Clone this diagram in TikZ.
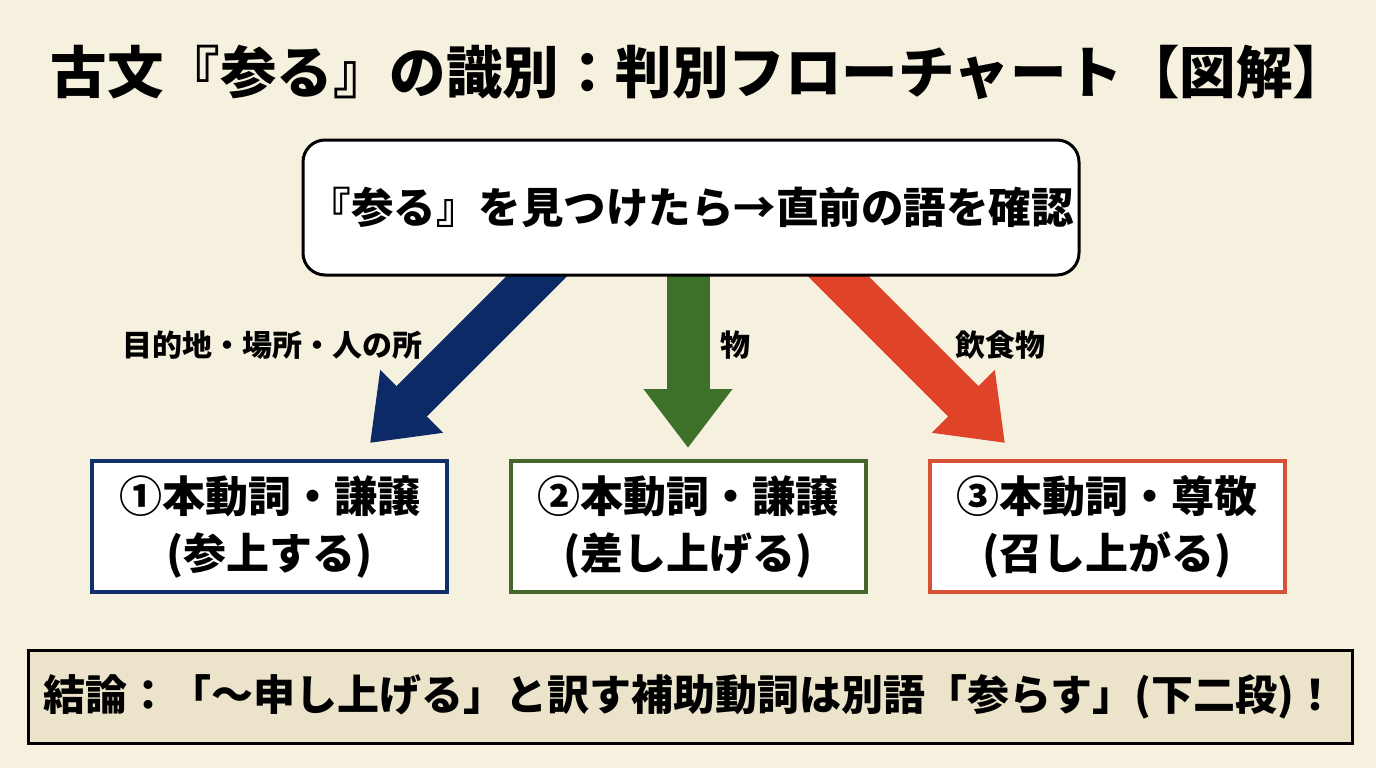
\documentclass[tikz,border=0pt]{standalone}
\usepackage{fontspec}
\setmainfont{Noto Sans CJK JP}
\usetikzlibrary{arrows.meta}
\pgfdeclarelayer{bg}
\pgfsetlayers{bg,main}
\definecolor{paper}{HTML}{F6F0DF}
\definecolor{conclfill}{HTML}{ECE3CB}
\definecolor{navyc}{HTML}{0B2A66}
\definecolor{greenc}{HTML}{3D7028}
\definecolor{redc}{HTML}{E04428}
\definecolor{navyb}{HTML}{10306B}
\definecolor{greenb}{HTML}{44682C}
\definecolor{redb}{HTML}{D65236}
\begin{document}
\begin{tikzpicture}[x=1pt,y=-1pt,
  titletext/.style={font=\fontsize{56.5}{60}\selectfont\bfseries, inner sep=0pt},
  startbox/.style={draw=black, line width=3pt, fill=white, rounded corners=22pt,
    minimum width=776pt, minimum height=135pt, inner sep=0pt,
    font=\fontsize{42.5}{48}\selectfont\bfseries},
  resultbox/.style={fill=white, line width=4pt, minimum width=355pt, minimum height=131pt,
    inner sep=0pt, align=center, font=\fontsize{43}{57}\selectfont\bfseries},
  conclbox/.style={draw=black, line width=3pt, fill=conclfill, minimum width=1324pt,
    minimum height=93pt, inner sep=0pt, font=\fontsize{42}{44}\selectfont\bfseries},
  cond/.style={font=\fontsize{30}{32}\selectfont\bfseries, inner sep=0pt},
  bigarrow/.style={line width=43pt, -{Triangle[length=59pt,width=85pt]}}
]
\useasboundingbox (0,0) rectangle (1376,768);

\node[titletext] (title) at (700,72) {古文『参る』の識別：判別フローチャート【図解】};

\node[startbox] (start) at (691,207.5) {『参る』を見つけたら→直前の語を確認};

\node[resultbox, draw=navyb] (r1) at (269.5,526.5) {①本動詞・謙譲\\(参上する)};
\node[resultbox, draw=greenb] (r2) at (688,526.5) {②本動詞・謙譲\\(差し上げる)};
\node[resultbox, draw=redb] (r3) at (1107,526.5) {③本動詞・尊敬\\(召し上がる)};

\node[cond] (c1) at (272,345) {目的地・場所・人の所};
\node[cond] (c2) at (735,345) {物};
\node[cond] (c3) at (1000,345) {飲食物};

\node[conclbox] (concl) at (690,696.5) {結論：「〜申し上げる」と訳す補助動詞は別語「参らす」(下二段)！};

\coordinate (s1) at (563,250);
\coordinate (e1) at (370,443);
\coordinate (s2) at (688,250);
\coordinate (e2) at (688,448);
\coordinate (s3) at (812,250);
\coordinate (e3) at (1005,443);
\begin{pgfonlayer}{bg}
\fill[paper] (0,0) rectangle (1376,768);
\draw[bigarrow, navyc] (s1) -- (e1);
\draw[bigarrow, greenc] (s2) -- (e2);
\draw[bigarrow, redc] (s3) -- (e3);
\end{pgfonlayer}
\end{tikzpicture}
\end{document}
